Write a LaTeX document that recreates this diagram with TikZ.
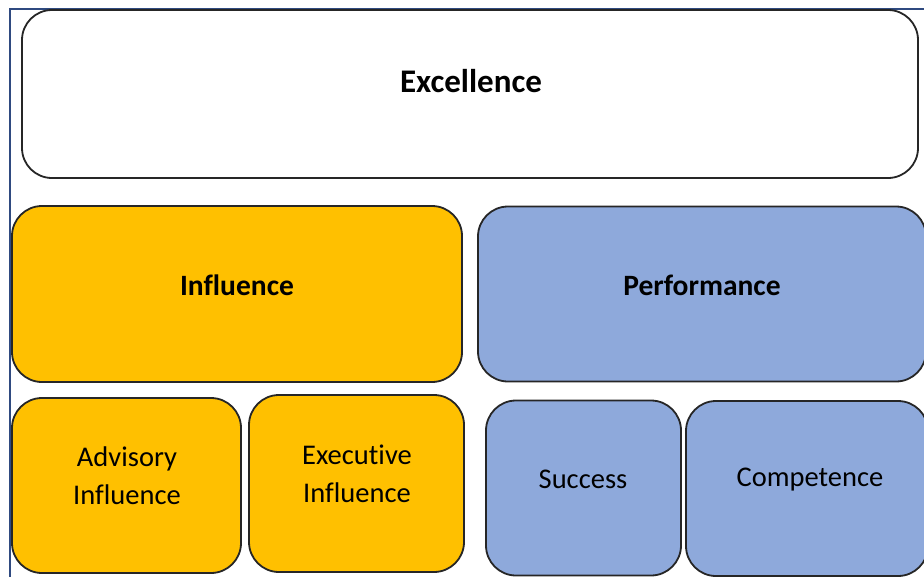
\documentclass[tikz,border=0pt]{standalone}
\usepackage{fontspec}
\setmainfont{Carlito}[Ligatures={NoCommon}]
\usepackage{tikz}

\definecolor{inflyellow}{HTML}{FFC000}
\definecolor{perfblue}{HTML}{8EA9DB}
\definecolor{framenavy}{HTML}{2F4A80}

\begin{document}
\begin{tikzpicture}[x=1pt,y=-1pt,
  box/.style={draw=black!85,line width=1.8pt,rounded corners=30pt,inner sep=0pt},
  head/.style={font=\fontsize{29.5}{36}\selectfont\bfseries,align=center},
  sub/.style={font=\fontsize{28.5}{38}\selectfont,align=center}]
 \useasboundingbox (0,0) rectangle (924,576);
 % outer frame, only left and top edges show
 \draw[framenavy,line width=2pt] (10,580)--(10,9)--(930,9);
 % top level
 \node[box,fill=white,minimum width=896pt,minimum height=168pt] (exc) at (470,94) {};
 % middle row
 \node[box,fill=inflyellow,minimum width=450pt,minimum height=176pt] (infl) at (237,294) {};
 \node[box,fill=perfblue,minimum width=448pt,minimum height=175pt] (perf) at (702,294) {};
 % bottom row
 \node[box,fill=inflyellow,minimum width=229pt,minimum height=175pt] (adv) at (126.5,485.5) {};
 \node[box,fill=inflyellow,minimum width=215pt,minimum height=177pt] (exe) at (356.5,483.5) {};
 \node[box,fill=perfblue,minimum width=195pt,minimum height=175pt] (succ) at (583.5,488) {};
 \node[box,fill=perfblue,minimum width=242pt,minimum height=175pt] (comp) at (807,488.5) {};
 % labels
 \node[head,font=\fontsize{33}{40}\selectfont\bfseries] (exc-t) at (471,81) {Excellence};
 \node[head] (infl-t) at (237,285) {Influence};
 \node[head] (perf-t) at (702,285) {Performance};
 \node[sub] (adv-t) at (127,476) {Advisory\\Influence};
 \node[sub] (exe-t) at (357,474) {Executive\\Influence};
 \node[sub] (succ-t) at (583,479) {Success};
 \node[sub] (comp-t) at (810,480) {Competence};
\end{tikzpicture}
\end{document}
